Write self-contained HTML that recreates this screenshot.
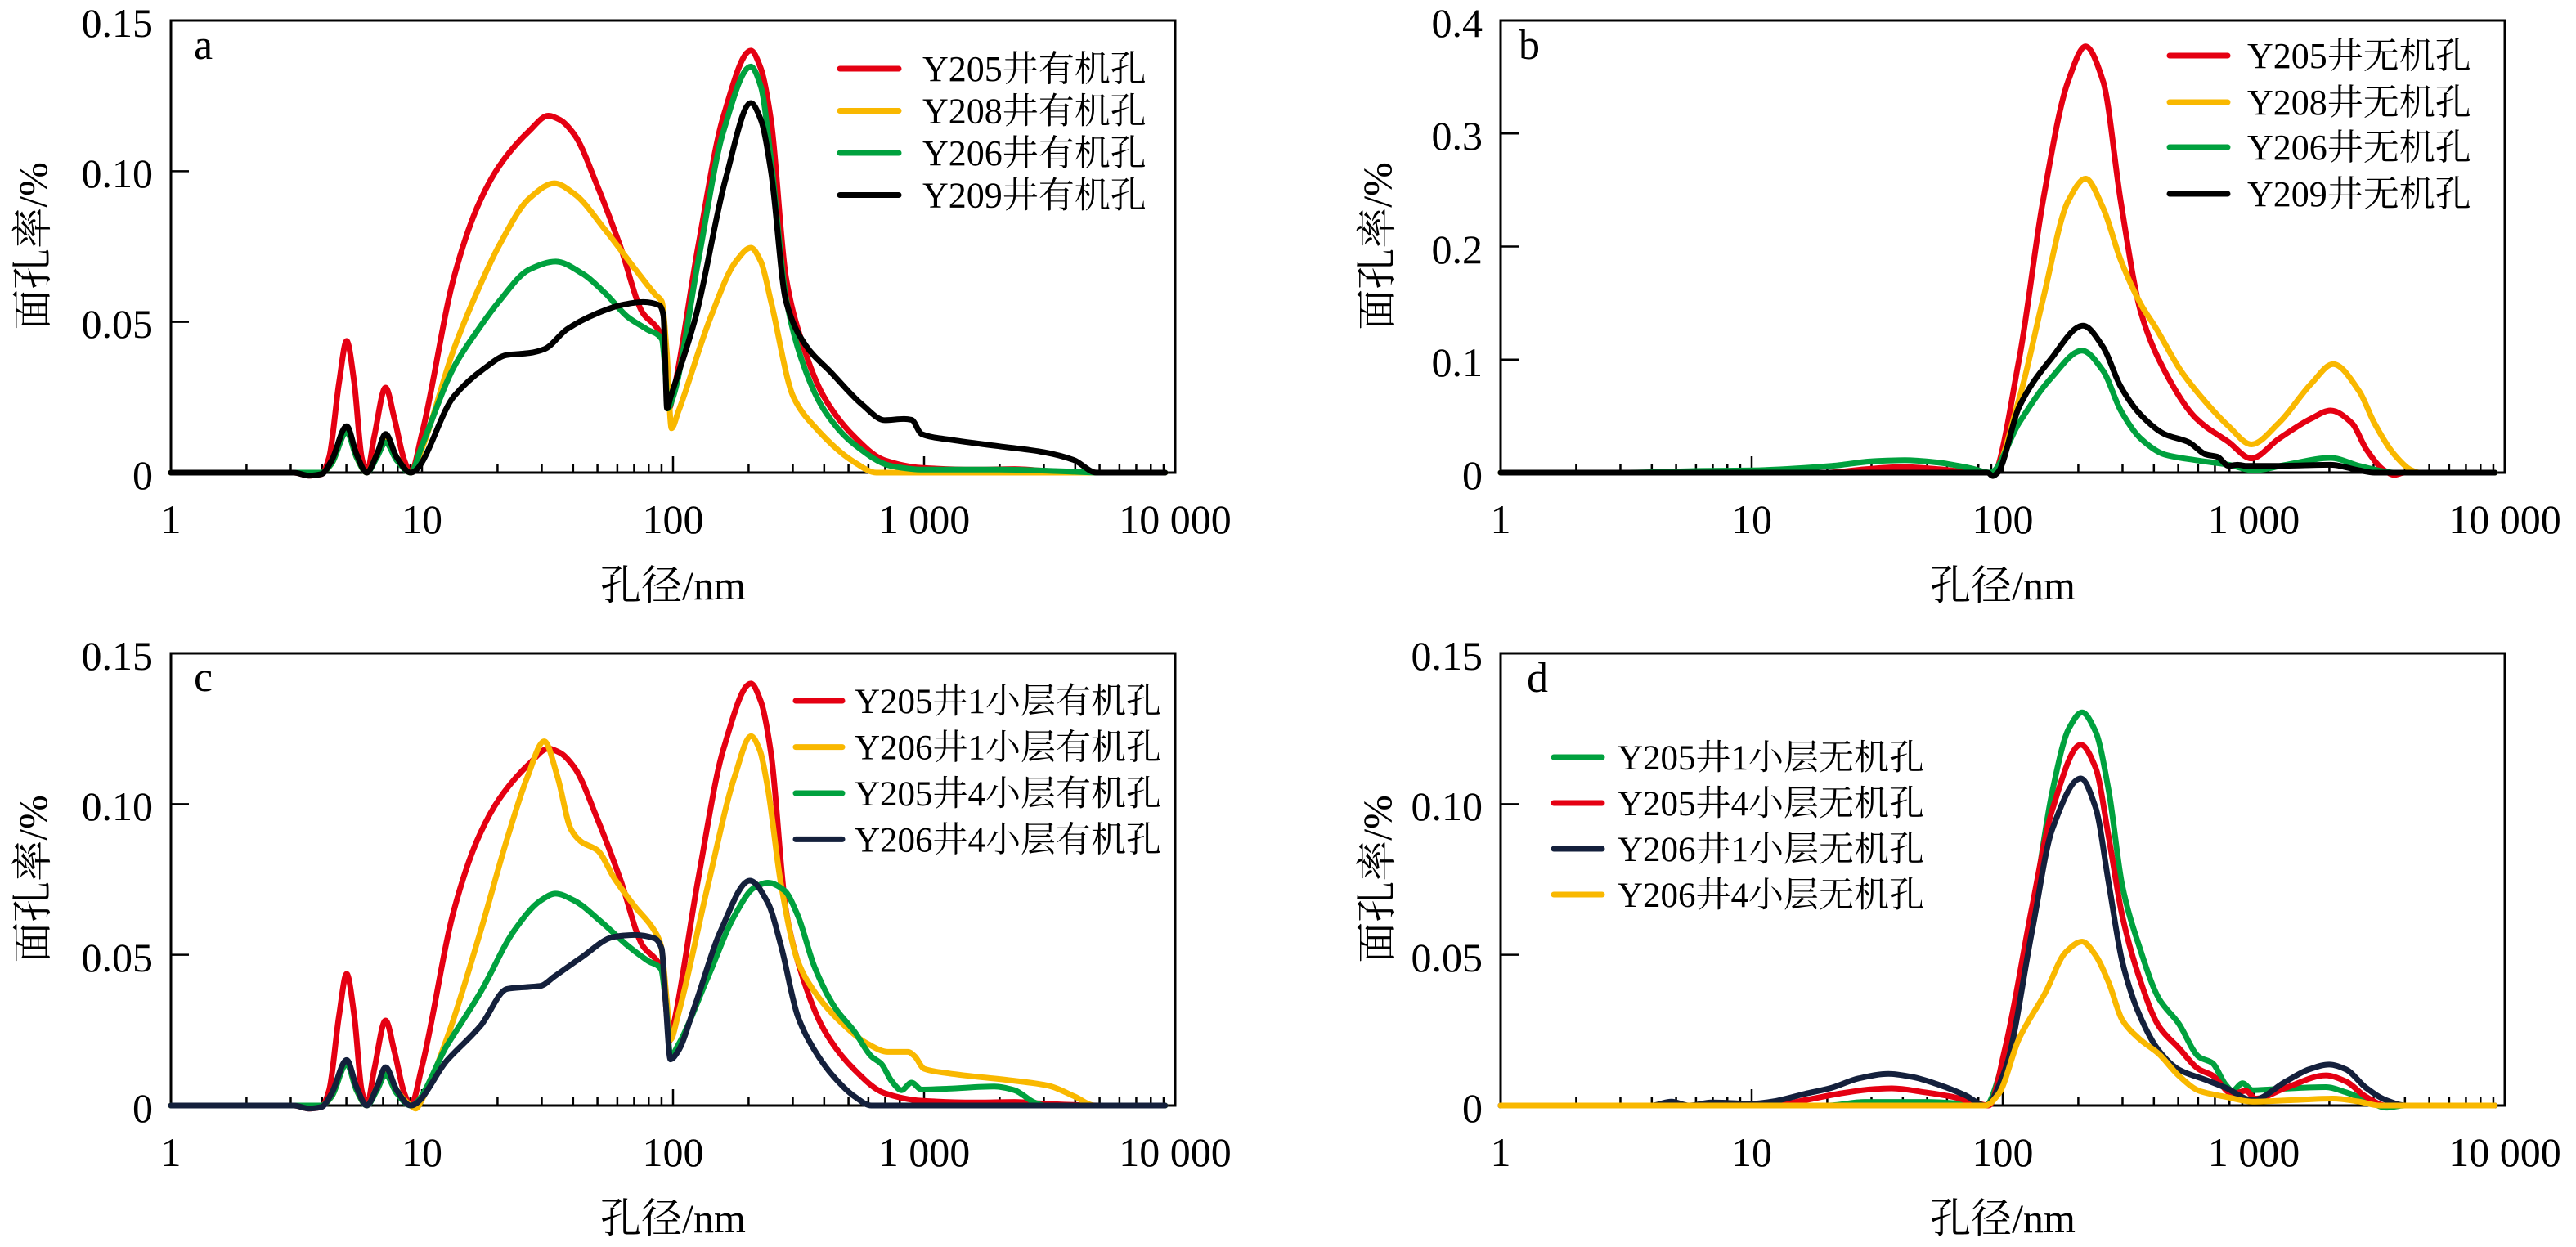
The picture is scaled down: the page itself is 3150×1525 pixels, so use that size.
<!DOCTYPE html>
<html>
<head>
<meta charset="utf-8">
<style>
html,body{margin:0;padding:0;background:#fff;}
svg{display:block;}
text{font-family:"Liberation Serif","Noto Serif CJK SC",serif;fill:#000;}
.tk{font-size:50px;}
.tt{font-size:50px;}
.lg{font-size:44px;}
.lg2{font-size:43px;}
.pl{font-size:52px;}
</style>
</head>
<body>
<svg id="c" xmlns="http://www.w3.org/2000/svg" width="3150" height="1525" viewBox="0 0 3150 1525">
<rect x="0" y="0" width="3150" height="1525" fill="#fff"/>
<g id="axes" stroke="#000" fill="none"></g>
<g id="curves" fill="none" stroke-width="7" stroke-linecap="round" stroke-linejoin="round"></g>
<g id="legendlines" stroke-width="7" stroke-linecap="round"></g>

<!-- Panel a -->
<text class="pl" x="237" y="72">a</text>
<text class="tk" x="187" y="45" text-anchor="end">0.15</text>
<text class="tk" x="187" y="229" text-anchor="end">0.10</text>
<text class="tk" x="187" y="413" text-anchor="end">0.05</text>
<text class="tk" x="187" y="598" text-anchor="end">0</text>
<text class="tk" x="209" y="652" text-anchor="middle">1</text>
<text class="tk" x="516" y="652" text-anchor="middle">10</text>
<text class="tk" x="823" y="652" text-anchor="middle">100</text>
<text class="tk" x="1130" y="652" text-anchor="middle">1 000</text>
<text class="tk" x="1437" y="652" text-anchor="middle">10 000</text>
<text class="tt" x="823" y="733" text-anchor="middle">孔径/nm</text>
<text class="tt" transform="translate(40,301) rotate(-90)" text-anchor="middle" dominant-baseline="central">面孔率/%</text>
<text class="lg" x="1128" y="99">Y205井有机孔</text>
<text class="lg" x="1128" y="150.5">Y208井有机孔</text>
<text class="lg" x="1128" y="202">Y206井有机孔</text>
<text class="lg" x="1128" y="253.5">Y209井有机孔</text>

<!-- Panel b -->
<text class="pl" x="1857" y="72">b</text>
<text class="tk" x="1813" y="45" text-anchor="end">0.4</text>
<text class="tk" x="1813" y="183" text-anchor="end">0.3</text>
<text class="tk" x="1813" y="322" text-anchor="end">0.2</text>
<text class="tk" x="1813" y="460" text-anchor="end">0.1</text>
<text class="tk" x="1813" y="598" text-anchor="end">0</text>
<text class="tk" x="1835" y="652" text-anchor="middle">1</text>
<text class="tk" x="2142" y="652" text-anchor="middle">10</text>
<text class="tk" x="2449" y="652" text-anchor="middle">100</text>
<text class="tk" x="2756" y="652" text-anchor="middle">1 000</text>
<text class="tk" x="3063" y="652" text-anchor="middle">10 000</text>
<text class="tt" x="2449" y="733" text-anchor="middle">孔径/nm</text>
<text class="tt" transform="translate(1684,301) rotate(-90)" text-anchor="middle" dominant-baseline="central">面孔率/%</text>
<text class="lg" x="2748" y="83">Y205井无机孔</text>
<text class="lg" x="2748" y="140">Y208井无机孔</text>
<text class="lg" x="2748" y="195">Y206井无机孔</text>
<text class="lg" x="2748" y="252">Y209井无机孔</text>

<!-- Panel c -->
<text class="pl" x="237" y="845">c</text>
<text class="tk" x="187" y="819" text-anchor="end">0.15</text>
<text class="tk" x="187" y="1003" text-anchor="end">0.10</text>
<text class="tk" x="187" y="1188" text-anchor="end">0.05</text>
<text class="tk" x="187" y="1372" text-anchor="end">0</text>
<text class="tk" x="209" y="1426" text-anchor="middle">1</text>
<text class="tk" x="516" y="1426" text-anchor="middle">10</text>
<text class="tk" x="823" y="1426" text-anchor="middle">100</text>
<text class="tk" x="1130" y="1426" text-anchor="middle">1 000</text>
<text class="tk" x="1437" y="1426" text-anchor="middle">10 000</text>
<text class="tt" x="823" y="1507" text-anchor="middle">孔径/nm</text>
<text class="tt" transform="translate(40,1075) rotate(-90)" text-anchor="middle" dominant-baseline="central">面孔率/%</text>
<text class="lg2" x="1045" y="872">Y205井1小层有机孔</text>
<text class="lg2" x="1045" y="928.6">Y206井1小层有机孔</text>
<text class="lg2" x="1045" y="985">Y205井4小层有机孔</text>
<text class="lg2" x="1045" y="1041.4">Y206井4小层有机孔</text>

<!-- Panel d -->
<text class="pl" x="1867" y="846">d</text>
<text class="tk" x="1813" y="819" text-anchor="end">0.15</text>
<text class="tk" x="1813" y="1003" text-anchor="end">0.10</text>
<text class="tk" x="1813" y="1188" text-anchor="end">0.05</text>
<text class="tk" x="1813" y="1372" text-anchor="end">0</text>
<text class="tk" x="1835" y="1426" text-anchor="middle">1</text>
<text class="tk" x="2142" y="1426" text-anchor="middle">10</text>
<text class="tk" x="2449" y="1426" text-anchor="middle">100</text>
<text class="tk" x="2756" y="1426" text-anchor="middle">1 000</text>
<text class="tk" x="3063" y="1426" text-anchor="middle">10 000</text>
<text class="tt" x="2449" y="1507" text-anchor="middle">孔径/nm</text>
<text class="tt" transform="translate(1684,1075) rotate(-90)" text-anchor="middle" dominant-baseline="central">面孔率/%</text>
<text class="lg2" x="1978" y="941">Y205井1小层无机孔</text>
<text class="lg2" x="1978" y="997">Y205井4小层无机孔</text>
<text class="lg2" x="1978" y="1053">Y206井1小层无机孔</text>
<text class="lg2" x="1978" y="1109">Y206井4小层无机孔</text>
</svg>

<script>
(function(){
var NS='http://www.w3.org/2000/svg';
function el(tag,attrs,parent){var e=document.createElementNS(NS,tag);for(var k in attrs)e.setAttribute(k,attrs[k]);parent.appendChild(e);return e;}
var axes=document.getElementById('axes');
var curves=document.getElementById('curves');
var lgl=document.getElementById('legendlines');
var D=307,H=553;
var R='#e50012',Y='#f9b800',G='#00a13e',K='#000000',N='#14203c';
var P={
 a:{x0:209,y0:578,ymax:0.15,yt:[0.05,0.10,0.15]},
 b:{x0:1835,y0:578,ymax:0.4,yt:[0.1,0.2,0.3,0.4]},
 c:{x0:209,y0:1352,ymax:0.15,yt:[0.05,0.10,0.15]},
 d:{x0:1835,y0:1352,ymax:0.15,yt:[0.05,0.10,0.15]}
};
for(var key in P){
 var p=P[key];
 el('rect',{x:p.x0,y:p.y0-H,width:4*D,height:H,'stroke-width':3},axes);
 for(var dec=0;dec<4;dec++){
  for(var m=1;m<=9;m++){
   var x=p.x0+(dec+Math.log10(m))*D;
   var len=(m==1)?20:10;
   el('line',{x1:x,y1:p.y0,x2:x,y2:p.y0-len,'stroke-width':2.5},axes);
  }
 }
 el('line',{x1:p.x0+4*D,y1:p.y0,x2:p.x0+4*D,y2:p.y0-20,'stroke-width':2.5},axes);
 p.yt.forEach(function(v){
  var y=p.y0-v/p.ymax*H;
  el('line',{x1:p.x0,y1:y,x2:p.x0+22,y2:y,'stroke-width':2.5},axes);
 });
}
function pathD(pts,p){
 var n=pts.length,xs=[],ys=[],h=[],mm=[],t=[];
 for(var i=0;i<n;i++){xs.push(pts[i][0]);ys.push(pts[i][1]);}
 for(i=0;i<n-1;i++){h[i]=xs[i+1]-xs[i];mm[i]=(ys[i+1]-ys[i])/h[i];}
 t[0]=mm[0];t[n-1]=mm[n-2];
 if(Math.abs(ys[0])<1e-9&&Math.abs(ys[1])<1e-9)t[0]=0;
 for(i=1;i<n-1;i++){
  if(mm[i-1]*mm[i]<=0)t[i]=0;
  else{var w1=2*h[i]+h[i-1],w2=h[i]+2*h[i-1];t[i]=(w1+w2)/(w1/mm[i-1]+w2/mm[i]);}
 }
 function X(l){return (p.x0+l*D).toFixed(2);}
 function Yv(v){return (p.y0-v/p.ymax*H).toFixed(2);}
 var d='M'+X(xs[0])+','+Yv(ys[0]);
 for(i=0;i<n-1;i++){
  var hh=h[i];
  d+=' C'+X(xs[i]+hh/3)+','+Yv(ys[i]+t[i]*hh/3)+' '+X(xs[i+1]-hh/3)+','+Yv(ys[i+1]-t[i+1]*hh/3)+' '+X(xs[i+1])+','+Yv(ys[i+1]);
 }
 return d;
}
function draw(key,pts,col){el('path',{d:pathD(pts,P[key]),stroke:col},curves);}

var aRed=[[0,0],[0.49,0],[0.55,-0.001],[0.6,-0.0005],[0.63,0.005],[0.67,0.03],[0.70,0.0437],[0.73,0.03],[0.76,0.005],[0.78,0],[0.81,0.012],[0.855,0.0282],[0.89,0.018],[0.93,0.004],[0.955,0],[1.0,0.013],[1.127,0.0647],[1.22,0.088],[1.307,0.1016],[1.428,0.1134],[1.503,0.1184],[1.55,0.117],[1.608,0.112],[1.699,0.095],[1.789,0.0753],[1.88,0.0529],[1.94,0.0476],[1.958,0.044],[1.975,0.03],[1.985,0.0213],[2.0,0.026],[2.1,0.075],[2.2,0.118],[2.31,0.140],[2.35,0.134],[2.39,0.117],[2.45,0.0647],[2.512,0.0437],[2.60,0.0253],[2.72,0.0121],[2.84,0.0042],[2.99,0.0016],[3.2,0.001],[3.36,0.0012],[3.5,0.0005],[3.7,0],[3.96,0]];
var aYel=[[0,0],[0.6,0],[0.64,0.003],[0.70,0.0145],[0.74,0.005],[0.78,0],[0.82,0.006],[0.855,0.0115],[0.9,0.005],[0.955,0],[1.0,0.008],[1.127,0.041],[1.22,0.06],[1.307,0.0753],[1.428,0.091],[1.527,0.096],[1.608,0.0924],[1.73,0.0805],[1.85,0.0674],[1.93,0.059],[1.955,0.0568],[1.975,0.04],[1.994,0.0147],[2.02,0.02],[2.15,0.0516],[2.25,0.07],[2.31,0.0746],[2.35,0.070],[2.39,0.0568],[2.48,0.025],[2.57,0.0147],[2.72,0.0036],[2.81,0],[3.96,0]];
var aGrn=[[0,0],[0.6,0],[0.64,0.003],[0.70,0.0135],[0.74,0.005],[0.78,0],[0.82,0.005],[0.855,0.0100],[0.9,0.004],[0.955,0],[1.0,0.009],[1.127,0.035],[1.22,0.047],[1.307,0.0568],[1.428,0.0674],[1.533,0.070],[1.639,0.066],[1.73,0.0595],[1.82,0.0516],[1.895,0.0476],[1.955,0.0443],[1.968,0.035],[1.98,0.0213],[2.0,0.025],[2.1,0.07],[2.2,0.113],[2.31,0.1347],[2.35,0.128],[2.39,0.104],[2.45,0.058],[2.51,0.038],[2.60,0.021],[2.72,0.0095],[2.87,0.0022],[3.0,0.001],[3.3,0.001],[3.6,0.0003],[3.7,0],[3.96,0]];
var aBlk=[[0,0],[0.49,0],[0.55,-0.001],[0.6,-0.0005],[0.64,0.004],[0.70,0.0154],[0.74,0.006],[0.78,0],[0.82,0.006],[0.855,0.0128],[0.9,0.005],[0.955,0],[1.127,0.0253],[1.247,0.0345],[1.337,0.039],[1.428,0.0397],[1.488,0.041],[1.578,0.0476],[1.699,0.0529],[1.789,0.0555],[1.88,0.0566],[1.946,0.0555],[1.962,0.052],[1.968,0.04],[1.976,0.0213],[1.99,0.025],[2.09,0.0516],[2.21,0.0976],[2.31,0.1226],[2.35,0.117],[2.39,0.100],[2.45,0.0568],[2.527,0.0424],[2.63,0.0332],[2.753,0.0226],[2.843,0.0174],[2.92,0.0178],[2.95,0.0175],[2.99,0.0128],[3.114,0.0108],[3.295,0.0088],[3.476,0.0068],[3.596,0.0042],[3.687,0],[3.96,0]];
draw('a',aRed,R);draw('a',aYel,Y);draw('a',aGrn,G);draw('a',aBlk,K);

var bRed=[[0,0],[1.3,0],[1.45,0.003],[1.6,0.005],[1.75,0.003],[1.9,0],[1.96,0],[2.065,0.1],[2.16,0.24],[2.26,0.346],[2.33,0.377],[2.40,0.346],[2.47,0.24],[2.55,0.142],[2.645,0.09],[2.77,0.048],[2.90,0.027],[2.99,0.0126],[3.10,0.030],[3.23,0.048],[3.306,0.055],[3.39,0.044],[3.45,0.02],[3.52,0.002],[3.56,-0.002],[3.6,0],[3.96,0]];
var bYel=[[0,0],[1.96,0],[2.065,0.065],[2.16,0.153],[2.26,0.24],[2.33,0.26],[2.40,0.234],[2.47,0.188],[2.55,0.149],[2.61,0.128],[2.71,0.09],[2.81,0.062],[2.90,0.041],[2.99,0.025],[3.10,0.044],[3.23,0.079],[3.316,0.096],[3.42,0.072],[3.48,0.044],[3.56,0.016],[3.63,0.002],[3.66,0],[3.96,0]];
var bGrn=[[0,0],[0.5,0],[0.8,0.0015],[1.0,0.002],[1.32,0.006],[1.48,0.010],[1.61,0.011],[1.74,0.009],[1.87,0.004],[1.95,0],[2.065,0.044],[2.19,0.083],[2.316,0.108],[2.40,0.09],[2.47,0.055],[2.55,0.030],[2.645,0.016],[2.77,0.011],[2.90,0.007],[3.0,0.002],[3.13,0.007],[3.306,0.013],[3.42,0.006],[3.52,0.001],[3.56,0],[3.96,0]];
var bBlk=[[0,0],[1.94,0],[1.96,-0.003],[1.98,0],[2.065,0.058],[2.19,0.10],[2.32,0.130],[2.40,0.111],[2.47,0.076],[2.55,0.051],[2.645,0.034],[2.74,0.027],[2.81,0.016],[2.855,0.014],[2.90,0.006],[2.935,0.007],[2.97,0.006],[3.10,0.006],[3.306,0.007],[3.42,0.002],[3.48,0],[3.96,0]];
draw('b',bRed,R);draw('b',bYel,Y);draw('b',bGrn,G);draw('b',bBlk,K);

var cYel=[[0,0],[0.6,0],[0.64,0.003],[0.70,0.014],[0.74,0.005],[0.78,0],[0.82,0.006],[0.855,0.012],[0.9,0.005],[0.955,0],[0.975,-0.001],[1.0,0.002],[1.10,0.0224],[1.234,0.058],[1.34,0.0887],[1.42,0.109],[1.487,0.1208],[1.54,0.109],[1.593,0.0917],[1.633,0.0876],[1.70,0.0846],[1.766,0.0754],[1.846,0.0662],[1.926,0.058],[1.952,0.053],[1.975,0.035],[1.99,0.0219],[2.02,0.03],[2.14,0.0734],[2.245,0.109],[2.311,0.1225],[2.345,0.118],[2.378,0.105],[2.43,0.0734],[2.497,0.0479],[2.564,0.0377],[2.67,0.0275],[2.777,0.0204],[2.856,0.0178],[2.936,0.0178],[2.963,0.0163],[3.00,0.0122],[3.096,0.0107],[3.36,0.0082],[3.495,0.0066],[3.60,0.003],[3.68,0],[3.96,0]];
var cGrn=[[0,0],[0.6,0],[0.64,0.003],[0.70,0.0138],[0.74,0.005],[0.78,0],[0.82,0.005],[0.855,0.0102],[0.9,0.004],[0.955,0],[1.10,0.02],[1.234,0.0377],[1.367,0.058],[1.473,0.068],[1.532,0.0703],[1.606,0.068],[1.713,0.061],[1.82,0.053],[1.9,0.048],[1.952,0.0453],[1.97,0.035],[1.99,0.0163],[2.02,0.02],[2.14,0.0428],[2.245,0.063],[2.324,0.0723],[2.378,0.0739],[2.444,0.0713],[2.497,0.063],[2.564,0.0459],[2.644,0.0326],[2.723,0.0245],[2.79,0.0163],[2.83,0.0138],[2.87,0.0082],[2.91,0.0051],[2.95,0.0076],[2.99,0.0053],[3.096,0.0056],[3.28,0.0063],[3.36,0.0051],[3.44,0.001],[3.48,0],[3.96,0]];
var cNav=[[0,0],[0.49,0],[0.55,-0.001],[0.6,-0.0005],[0.64,0.004],[0.70,0.0151],[0.74,0.006],[0.78,0],[0.82,0.006],[0.855,0.0127],[0.9,0.005],[0.955,0],[1.10,0.015],[1.234,0.0265],[1.34,0.0387],[1.433,0.0394],[1.473,0.0397],[1.527,0.0428],[1.633,0.049],[1.766,0.056],[1.846,0.0566],[1.926,0.0555],[1.955,0.052],[1.97,0.035],[1.99,0.0153],[2.02,0.018],[2.085,0.0326],[2.19,0.058],[2.306,0.0746],[2.378,0.0672],[2.43,0.053],[2.497,0.0296],[2.564,0.0183],[2.644,0.0092],[2.723,0.003],[2.79,0],[3.96,0]];
draw('c',aRed,R);draw('c',cYel,Y);draw('c',cGrn,G);draw('c',cNav,N);

var dGrn=[[0,0],[1.3,0],[1.45,0.0012],[1.7,0.0012],[1.85,0.0005],[1.93,0],[2.01,0.017],[2.117,0.063],[2.197,0.104],[2.263,0.125],[2.316,0.1304],[2.37,0.124],[2.423,0.104],[2.476,0.073],[2.543,0.053],[2.622,0.0355],[2.70,0.0273],[2.782,0.0161],[2.835,0.0141],[2.888,0.0069],[2.915,0.0049],[2.955,0.0074],[2.995,0.0051],[3.074,0.0054],[3.287,0.0061],[3.367,0.0044],[3.447,0.0018],[3.527,-0.0007],[3.6,0],[3.96,0]];
var dRed=[[0,0],[1.08,0],[1.213,0.0018],[1.346,0.0039],[1.479,0.0054],[1.558,0.0057],[1.69,0.0044],[1.80,0.0029],[1.904,0.0006],[1.944,0],[2.01,0.0192],[2.117,0.066],[2.197,0.098],[2.311,0.1197],[2.37,0.112],[2.423,0.0886],[2.476,0.063],[2.543,0.0427],[2.622,0.0263],[2.70,0.0192],[2.782,0.012],[2.835,0.010],[2.915,0.0039],[2.968,0.0049],[3.008,0.0023],[3.128,0.0059],[3.287,0.010],[3.367,0.008],[3.447,0.0029],[3.527,0],[3.96,0]];
var dNav=[[0,0],[0.6,0],[0.68,0.0013],[0.75,0],[0.84,0.001],[1.0,0.0006],[1.08,0.0013],[1.213,0.0039],[1.319,0.0059],[1.426,0.009],[1.545,0.0105],[1.638,0.0095],[1.745,0.0069],[1.851,0.0034],[1.931,0],[2.01,0.012],[2.117,0.058],[2.197,0.0916],[2.311,0.1085],[2.37,0.0988],[2.423,0.0733],[2.476,0.0478],[2.543,0.0304],[2.622,0.0182],[2.70,0.012],[2.809,0.0085],[2.888,0.0059],[2.995,0.0018],[3.128,0.008],[3.22,0.012],[3.30,0.0136],[3.367,0.012],[3.447,0.0059],[3.527,0.0018],[3.606,0],[3.96,0]];
var dYel=[[0,0],[1.93,0],[1.984,0.0039],[2.064,0.022],[2.17,0.0375],[2.25,0.0508],[2.316,0.0544],[2.37,0.0498],[2.423,0.0406],[2.476,0.0284],[2.543,0.0222],[2.622,0.0171],[2.70,0.010],[2.782,0.0049],[2.888,0.0029],[2.995,0.0013],[3.154,0.0018],[3.314,0.0023],[3.42,0.0013],[3.5,0],[3.96,0]];
draw('d',dGrn,G);draw('d',dRed,R);draw('d',dNav,N);draw('d',dYel,Y);

function leg(x1,x2,rows,cols){for(var i=0;i<rows.length;i++)el('line',{x1:x1,y1:rows[i],x2:x2,y2:rows[i],stroke:cols[i]},lgl);}
leg(1027,1099,[84,135.5,187,238.5],[R,Y,G,K]);
leg(2653,2724,[68,125,180,237],[R,Y,G,K]);
leg(973,1030,[857,913.6,970,1026.4],[R,Y,G,N]);
leg(1900,1959,[926,982,1038,1094],[G,R,N,Y]);
})();
</script>
</body>
</html>
